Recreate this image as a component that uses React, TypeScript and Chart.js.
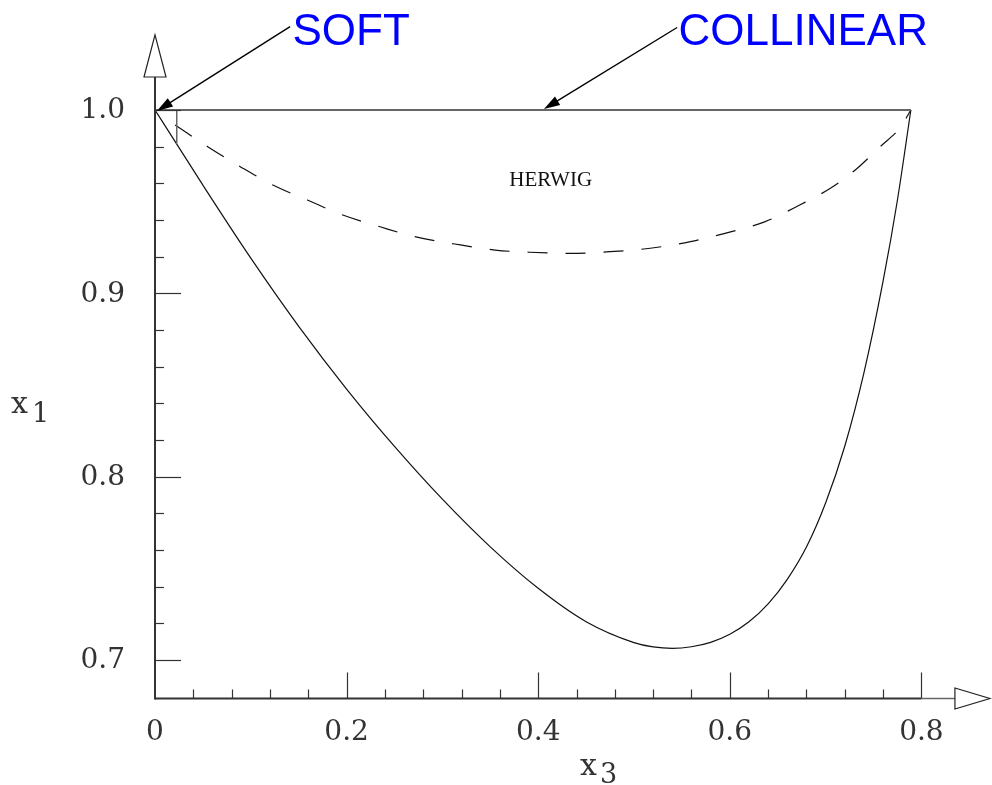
import React, { useEffect, useRef } from 'react';
import { Chart, registerables } from 'chart.js';

Chart.register(...registerables);

// ---- data (x3 = gluon energy fraction, x1 = quark energy fraction) ----
const solidX3 = [0, 0.0227, 0.05, 0.1, 0.15, 0.2, 0.25, 0.3, 0.35, 0.4, 0.45, 0.5, 0.52, 0.54, 0.56, 0.58, 0.6, 0.62, 0.64, 0.66, 0.68, 0.7, 0.72, 0.74, 0.76, 0.775, 0.789];
const solidX1 = [1.0, 0.9814, 0.959, 0.9192, 0.882, 0.8478, 0.8165, 0.7877, 0.7617, 0.7391, 0.7209, 0.7095, 0.7071, 0.7063, 0.7072, 0.7096, 0.714, 0.7208, 0.7306, 0.744, 0.7616, 0.7856, 0.8166, 0.8566, 0.9066, 0.9509, 1.0];

const dashedX3 = [0.021, 0.055, 0.089, 0.123, 0.159, 0.196, 0.235, 0.271, 0.313, 0.355, 0.391, 0.433, 0.475, 0.517, 0.559, 0.595, 0.637, 0.673, 0.705, 0.731, 0.757, 0.778, 0.789];
const dashedX1 = [0.9918, 0.98, 0.9691, 0.9591, 0.9509, 0.9427, 0.9363, 0.9309, 0.9269, 0.9236, 0.9224, 0.9218, 0.9227, 0.9246, 0.9282, 0.9327, 0.9391, 0.9482, 0.9573, 0.9673, 0.98, 0.9905, 1.0];

const collinearX3 = [0, 0.789];
const collinearX1 = [1.0, 1.0];

const softCutX3 = [0.0227, 0.0227];
const softCutX1 = [1.0, 0.9814];

const xMajorTicks = [0, 0.2, 0.4, 0.6, 0.8];
const xTickLabels = ['0', '0.2', '0.4', '0.6', '0.8'];
const yMajorTicks = [0.7, 0.8, 0.9, 1.0];
const yTickLabels = ['0.7', '0.8', '0.9', '1.0'];
const xMinorStep = 0.04;
const yMinorStep = 0.02;

const herwigLabel = 'HERWIG';
const softLabel = 'SOFT';
const collinearLabel = 'COLLINEAR';

// ---- axis geometry (value space) ----
const X_MIN = -0.1618;
const X_MAX = 0.8737;
const Y_MIN = 0.6318;
const Y_MAX = 1.06;
const AXIS_Y = 0.679;
const X_ARROW_BASE = 0.835;
const X_ARROW_TIP = 0.8715;
const Y_ARROW_BASE = 1.018;
const Y_ARROW_TIP = 1.041;

const pts = (xs: number[], ys: number[]) => xs.map((x, i) => ({ x, y: ys[i] }));

const SERIF = '"DejaVu Serif", serif';

function drawFilledArrow(ctx: CanvasRenderingContext2D, x0: number, y0: number, x1: number, y1: number) {
  const ang = Math.atan2(y1 - y0, x1 - x0);
  const len = 16;
  const hw = 5;
  ctx.beginPath();
  ctx.moveTo(x0, y0);
  ctx.lineTo(x1 - Math.cos(ang) * len * 0.8, y1 - Math.sin(ang) * len * 0.8);
  ctx.stroke();
  ctx.beginPath();
  ctx.moveTo(x1, y1);
  ctx.lineTo(x1 - Math.cos(ang) * len - Math.sin(ang) * hw, y1 - Math.sin(ang) * len + Math.cos(ang) * hw);
  ctx.lineTo(x1 - Math.cos(ang) * len + Math.sin(ang) * hw, y1 - Math.sin(ang) * len - Math.cos(ang) * hw);
  ctx.closePath();
  ctx.fill();
}

const decorPlugin = {
  id: 'decor',
  afterDatasetsDraw(chart: any) {
    const ctx: CanvasRenderingContext2D = chart.ctx;
    const xs = chart.scales.x;
    const ys = chart.scales.y;
    const X = (v: number) => xs.getPixelForValue(v);
    const Y = (v: number) => ys.getPixelForValue(v);
    const ox = X(0);
    const oy = Y(AXIS_Y);
    ctx.save();

    // axes lines
    ctx.strokeStyle = '#333';
    ctx.lineWidth = 2;
    ctx.beginPath();
    ctx.moveTo(ox, oy);
    ctx.lineTo(X(0.8), oy);
    ctx.stroke();
    ctx.strokeStyle = '#666';
    ctx.lineWidth = 1.6;
    ctx.beginPath();
    ctx.moveTo(X(0.8), oy);
    ctx.lineTo(X(X_ARROW_BASE), oy);
    ctx.stroke();
    ctx.strokeStyle = '#333';
    ctx.lineWidth = 2;
    ctx.beginPath();
    ctx.moveTo(ox, oy + 1);
    ctx.lineTo(ox, Y(Y_ARROW_BASE));
    ctx.stroke();

    // open arrowheads
    ctx.lineWidth = 1.2;
    ctx.fillStyle = '#fff';
    ctx.strokeStyle = '#222';
    ctx.beginPath();
    ctx.moveTo(ox - 11, Y(Y_ARROW_BASE));
    ctx.lineTo(ox + 11, Y(Y_ARROW_BASE));
    ctx.lineTo(ox, Y(Y_ARROW_TIP));
    ctx.closePath();
    ctx.fill();
    ctx.stroke();
    ctx.beginPath();
    ctx.moveTo(X(X_ARROW_BASE), oy - 10.5);
    ctx.lineTo(X(X_ARROW_BASE), oy + 10.5);
    ctx.lineTo(X(X_ARROW_TIP), oy);
    ctx.closePath();
    ctx.fill();
    ctx.stroke();

    // ticks
    ctx.strokeStyle = '#333';
    ctx.lineWidth = 1.2;
    const isMajor = (v: number, arr: number[]) => arr.some((m) => Math.abs(m - v) < 1e-6);
    for (let i = 1; i * xMinorStep <= 0.8 + 1e-6; i++) {
      const v = i * xMinorStep;
      const len = isMajor(v, xMajorTicks) ? 26 : 9;
      ctx.beginPath();
      ctx.moveTo(Math.round(X(v)) + 0.5, oy);
      ctx.lineTo(Math.round(X(v)) + 0.5, oy - len);
      ctx.stroke();
    }
    for (let i = 0; 0.7 + i * yMinorStep <= 1.0 + 1e-6; i++) {
      const v = 0.7 + i * yMinorStep;
      const len = isMajor(v, yMajorTicks) ? 26 : 9;
      ctx.beginPath();
      ctx.moveTo(ox, Math.round(Y(v)) + 0.5);
      ctx.lineTo(ox + len, Math.round(Y(v)) + 0.5);
      ctx.stroke();
    }

    // tick labels
    ctx.fillStyle = '#333';
    ctx.font = `28px ${SERIF}`;
    ctx.textAlign = 'center';
    ctx.textBaseline = 'middle';
    xMajorTicks.forEach((v, i) => ctx.fillText(xTickLabels[i], X(v), oy + 34));
    ctx.textAlign = 'right';
    yMajorTicks.forEach((v, i) => ctx.fillText(yTickLabels[i], ox - 30, Y(v) + 1));

    // axis titles
    ctx.textAlign = 'left';
    ctx.textBaseline = 'alphabetic';
    ctx.font = `30px ${SERIF}`;
    ctx.fillText('x', 11, 413);
    ctx.font = `27px ${SERIF}`;
    ctx.fillText('1', 32, 422);
    ctx.font = `30px ${SERIF}`;
    ctx.fillText('x', 580, 775);
    ctx.font = `27px ${SERIF}`;
    ctx.fillText('3', 600, 783);

    // HERWIG label
    ctx.font = '21px "Liberation Serif", serif';
    ctx.textAlign = 'center';
    ctx.textBaseline = 'middle';
    ctx.fillStyle = '#111';
    ctx.fillText(herwigLabel, X(0.413), Y(0.9615));

    // annotation arrows
    ctx.strokeStyle = '#000';
    ctx.fillStyle = '#000';
    ctx.lineWidth = 1.4;
    drawFilledArrow(ctx, X(0.141), Y(1.0455), X(0.002), Y(0.9995));
    drawFilledArrow(ctx, X(0.545), Y(1.045), X(0.406), Y(1.0005));

    // annotation texts
    ctx.fillStyle = '#0000ff';
    ctx.font = '44px "Liberation Sans", Arial, sans-serif';
    ctx.textAlign = 'left';
    ctx.textBaseline = 'alphabetic';
    ctx.fillText(softLabel, X(0.1435), Y(1.0355));
    ctx.fillText(collinearLabel, X(0.5465), Y(1.0355));

    ctx.restore();
  },
};

export default function App() {
  const ref = useRef<HTMLCanvasElement | null>(null);
  useEffect(() => {
    if (!ref.current) return;
    const chart = new Chart(ref.current, {
      type: 'scatter',
      data: {
        datasets: [
          {
            label: 'collinear boundary',
            data: pts(collinearX3, collinearX1),
            showLine: true,
            borderColor: '#666',
            borderWidth: 2,
            pointRadius: 0,
          },
          {
            label: 'soft cut',
            data: pts(softCutX3, softCutX1),
            showLine: true,
            borderColor: '#666',
            borderWidth: 1.5,
            pointRadius: 0,
          },
          {
            label: 'phase space',
            data: pts(solidX3, solidX1),
            showLine: true,
            borderColor: '#111',
            borderWidth: 1.2,
            pointRadius: 0,
            cubicInterpolationMode: 'monotone',
          },
          {
            label: 'HERWIG',
            data: pts(dashedX3, dashedX1),
            showLine: true,
            borderColor: '#111',
            borderWidth: 1.2,
            borderDash: [20, 18],
            pointRadius: 0,
            cubicInterpolationMode: 'monotone',
          },
        ],
      },
      options: {
        animation: false,
        responsive: false,
        devicePixelRatio: 1,
        layout: { padding: 0 },
        plugins: { legend: { display: false }, tooltip: { enabled: false }, title: { display: false } },
        scales: {
          x: { type: 'linear', min: X_MIN, max: X_MAX, display: false },
          y: { type: 'linear', min: Y_MIN, max: Y_MAX, display: false },
        },
      },
      plugins: [decorPlugin],
    } as any);
    return () => chart.destroy();
  }, []);
  return (
    <div style={{ position: 'fixed', left: 0, top: 0, width: 992, height: 785, background: '#fff' }}>
      <canvas ref={ref} width={992} height={785} style={{ display: 'block' }} />
    </div>
  );
}
